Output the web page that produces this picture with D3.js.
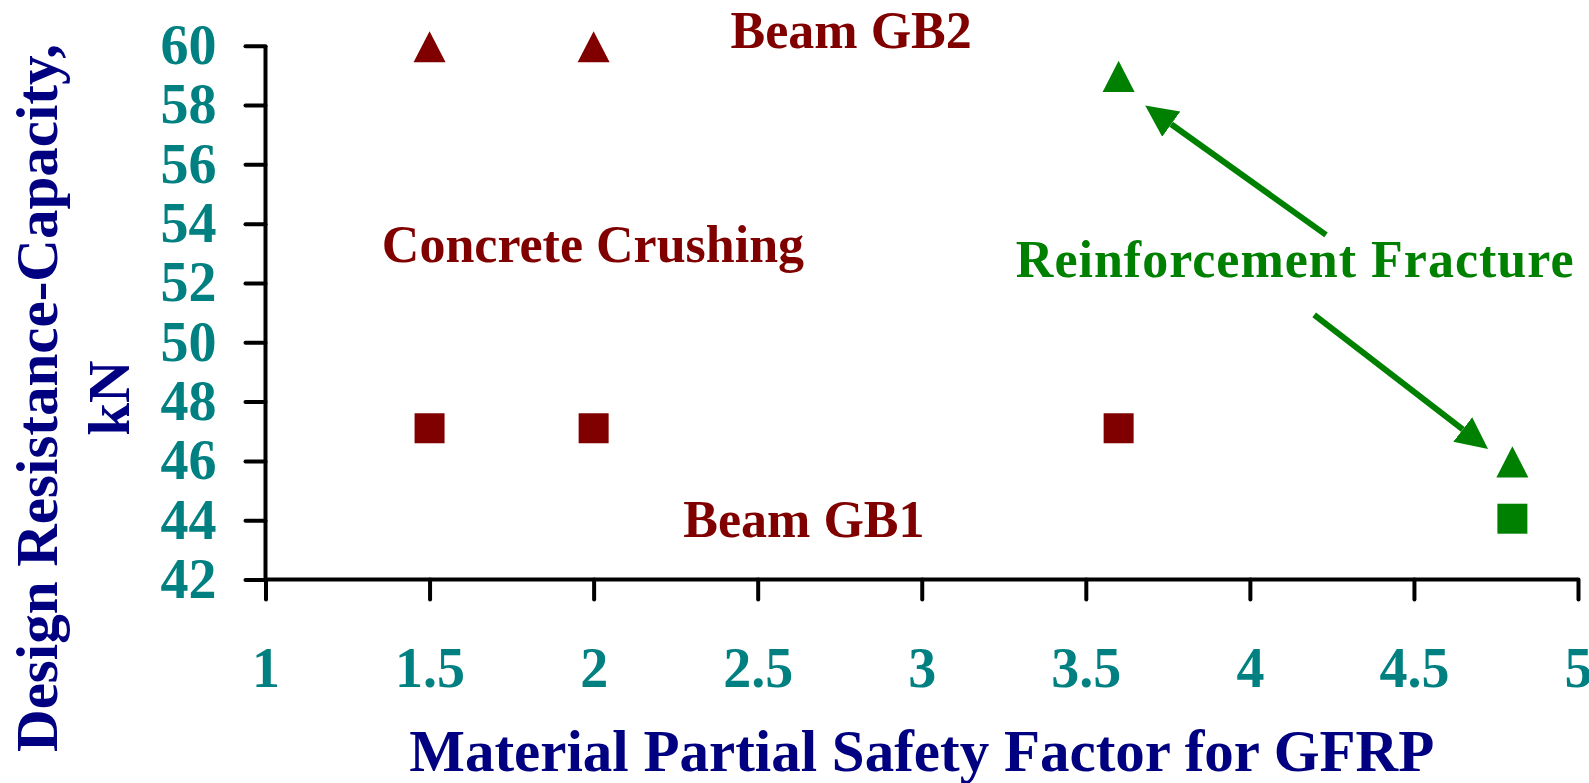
<!DOCTYPE html>
<html>
<head>
<meta charset="utf-8">
<script src="https://cdn.jsdelivr.net/npm/d3@7"></script>
<style>
  html, body { margin: 0; padding: 0; background: #fff; }
  svg { display: block; font-family: "Liberation Serif", "Times New Roman", serif; font-weight: bold; }
</style>
</head>
<body>
<div id="chart"></div>
<script>
// data
const safetyFactors = [1.5, 2, 3.6, 4.8];
const gb1Capacity = [47.1, 47.1, 47.1, 44.05];
const gb1Failure = ["crushing", "crushing", "crushing", "fracture"];
const gb2Capacity = [60, 60, 59, 46];
const gb2Failure = ["crushing", "crushing", "fracture", "fracture"];

const xTicks = [1, 1.5, 2, 2.5, 3, 3.5, 4, 4.5, 5];
const yTicks = [42, 44, 46, 48, 50, 52, 54, 56, 58, 60];

// annotation texts, placed in data units
const labelTexts = ["Beam GB2", "Concrete Crushing", "Reinforcement Fracture", "Beam GB1"];
const labelX = [2.785, 1.998, 4.138, 2.641];
const labelY = [59.93, 52.71, 52.21, 43.43];
const labelMode = ["crushing", "crushing", "fracture", "crushing"];

// arrows: start -> tip, in data units
const arrowFrom = [[4.232, 53.62], [4.196, 50.92]];
const arrowTo = [[3.681, 57.98], [4.726, 46.40]];

function chart() {
  const width = 1589,
    height = 783;

  // colours
  const modeColor = { crushing: "#800000", fracture: "#008000" };
  const tickColor = "#008080";
  const titleColor = "#000080";

  const x = d3.scaleLinear().domain([1, 5]).range([265.5, 1578]);
  const y = d3.scaleLinear().domain([42, 60]).range([579.5, 45.7]);

  const svg = d3
    .select("#chart")
    .append("svg")
    .attr("width", width)
    .attr("height", height);

  // x axis
  const gx = svg
    .append("g")
    .attr("transform", `translate(0,${y(42)})`)
    .call(
      d3.axisBottom(x).tickValues(xTicks).tickSize(20).tickPadding(48).tickFormat(d3.format("~g"))
    );

  // y axis
  const gy = svg
    .append("g")
    .attr("transform", `translate(${x(1)},0)`)
    .call(d3.axisLeft(y).tickValues(yTicks).tickSize(20).tickPadding(29));

  [gx, gy].forEach((g) => {
    g.select(".domain").attr("stroke", "#000").attr("stroke-width", 4);
    g.selectAll(".tick line").attr("stroke", "#000").attr("stroke-width", 4).attr("stroke-linecap", "round");
    g.selectAll(".tick text")
      .attr("fill", tickColor)
      .attr("font-family", "Liberation Serif, Times New Roman, serif")
      .attr("font-weight", "bold")
      .attr("font-size", 56);
  });
  // domain paths without outer tick stubs
  gx.select(".domain").attr("d", `M${x(1)},0H${x(5)}`);
  gy.select(".domain").attr("d", `M0,${y(42)}V${y(60)}`);

  // axis titles
  svg
    .append("text")
    .attr("x", (x(1) + x(5)) / 2)
    .attr("y", 771)
    .attr("text-anchor", "middle")
    .attr("fill", titleColor)
    .attr("font-size", 59)
    .text("Material Partial Safety Factor for GFRP");

  const yTitle = svg
    .append("text")
    .attr("transform", "translate(0,398) rotate(-90)")
    .attr("text-anchor", "middle")
    .attr("fill", titleColor)
    .attr("font-size", 59);
  yTitle.append("tspan").attr("x", 0).attr("y", 57).text("Design Resistance-Capacity,");
  yTitle.append("tspan").attr("x", 0).attr("y", 129).text("kN");

  // triangle marker a bit taller than equilateral, centred on its box
  const tallTriangle = {
    draw(context, size) {
      const w = Math.sqrt(size);
      const h = w * 0.97;
      context.moveTo(0, -h / 2);
      context.lineTo(w / 2, h / 2);
      context.lineTo(-w / 2, h / 2);
      context.closePath();
    },
  };

  const gb1 = safetyFactors.map((f, i) => ({ f, v: gb1Capacity[i], mode: gb1Failure[i] }));
  const gb2 = safetyFactors.map((f, i) => ({ f, v: gb2Capacity[i], mode: gb2Failure[i] }));

  svg
    .append("g")
    .selectAll("path")
    .data(gb1)
    .join("path")
    .attr("transform", (d) => `translate(${x(d.f)},${y(d.v)})`)
    .attr("fill", (d) => modeColor[d.mode])
    .attr("d", d3.symbol(d3.symbolSquare, 900));

  svg
    .append("g")
    .selectAll("path")
    .data(gb2)
    .join("path")
    .attr("transform", (d) => `translate(${x(d.f)},${y(d.v) + 1})`)
    .attr("fill", (d) => modeColor[d.mode])
    .attr("d", d3.symbol(tallTriangle, 1024));

  // annotation labels
  svg
    .append("g")
    .selectAll("text")
    .data(labelTexts)
    .join("text")
    .attr("x", (d, i) => x(labelX[i]))
    .attr("y", (d, i) => y(labelY[i]))
    .attr("text-anchor", "middle")
    .attr("font-size", 52)
    .attr("letter-spacing", (d, i) => (labelMode[i] === "fracture" ? 1 : 0))
    .attr("fill", (d, i) => modeColor[labelMode[i]])
    .text((d) => d);

  // arrows
  svg
    .append("defs")
    .append("marker")
    .attr("id", "head")
    .attr("markerUnits", "userSpaceOnUse")
    .attr("markerWidth", 40)
    .attr("markerHeight", 40)
    .attr("viewBox", "0 -20 40 40")
    .attr("refX", 0)
    .attr("refY", 0)
    .attr("orient", "auto")
    .append("path")
    .attr("d", "M0,-15.5L32,0L0,15.5Z")
    .attr("fill", modeColor.fracture);

  const headLen = 32;
  svg
    .append("g")
    .selectAll("line")
    .data(arrowFrom)
    .join("line")
    .each(function (d, i) {
      const x0 = x(d[0]),
        y0 = y(d[1]),
        x1 = x(arrowTo[i][0]),
        y1 = y(arrowTo[i][1]);
      const len = Math.hypot(x1 - x0, y1 - y0);
      d3.select(this)
        .attr("x1", x0)
        .attr("y1", y0)
        .attr("x2", x1 - ((x1 - x0) / len) * headLen)
        .attr("y2", y1 - ((y1 - y0) / len) * headLen);
    })
    .attr("stroke", modeColor.fracture)
    .attr("stroke-width", 6)
    .attr("marker-end", "url(#head)");
}

chart();
</script>
</body>
</html>
